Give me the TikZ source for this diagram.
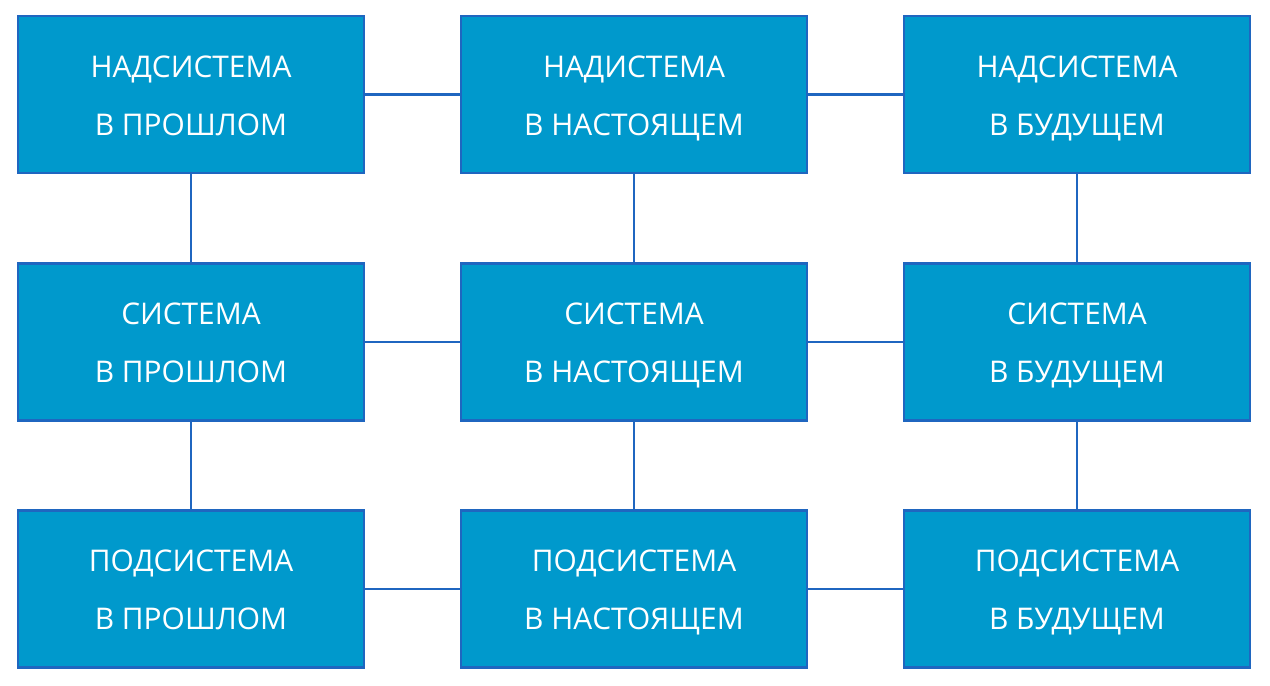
\documentclass[tikz,border=0pt]{standalone}
\usepackage{fontspec}
\setmainfont{Open Sans}
\usetikzlibrary{positioning}
\definecolor{boxfill}{HTML}{0099CC}
\definecolor{boxline}{HTML}{1F66C0}
\newcommand{\twolines}[2]{\raisebox{-0.15cm}{\begin{tabular}{@{}c@{}}#1\\#2\end{tabular}}}
\begin{document}
\begin{tikzpicture}[
box/.style={draw=boxline, line width=1.2pt, fill=boxfill, text=white,
  minimum width=6.92cm, minimum height=3.14cm,
  font=\fontsize{17}{33}\selectfont},
link/.style={draw=boxline, line width=1.2pt}]
\useasboundingbox (0,0) rectangle (25.4,13.72);
% row 1
\node [box] (np) at (3.82,11.83) {\twolines{НАДСИСТЕМА}{В ПРОШЛОМ}};
\node [box] (nn) at (12.68,11.83) {\twolines{НАДИСТЕМА}{В НАСТОЯЩЕМ}};
\node [box] (nb) at (21.54,11.83) {\twolines{НАДСИСТЕМА}{В БУДУЩЕМ}};
% row 2
\node [box] (sp) at (3.82,6.88) {\twolines{СИСТЕМА}{В ПРОШЛОМ}};
\node [box] (sn) at (12.68,6.88) {\twolines{СИСТЕМА}{В НАСТОЯЩЕМ}};
\node [box] (sb) at (21.54,6.88) {\twolines{СИСТЕМА}{В БУДУЩЕМ}};
% row 3
\node [box] (pp) at (3.82,1.94) {\twolines{ПОДСИСТЕМА}{В ПРОШЛОМ}};
\node [box] (pn) at (12.68,1.94) {\twolines{ПОДСИСТЕМА}{В НАСТОЯЩЕМ}};
\node [box] (pb) at (21.54,1.94) {\twolines{ПОДСИСТЕМА}{В БУДУЩЕМ}};
\foreach \a/\b in {np/nn, nn/nb, sp/sn, sn/sb, pp/pn, pn/pb}
  \draw [link] (\a.east) -- (\b.west);
\foreach \a/\b in {np/sp, sp/pp, nn/sn, sn/pn, nb/sb, sb/pb}
  \draw [link] (\a.south) -- (\b.north);
\end{tikzpicture}
\end{document}
